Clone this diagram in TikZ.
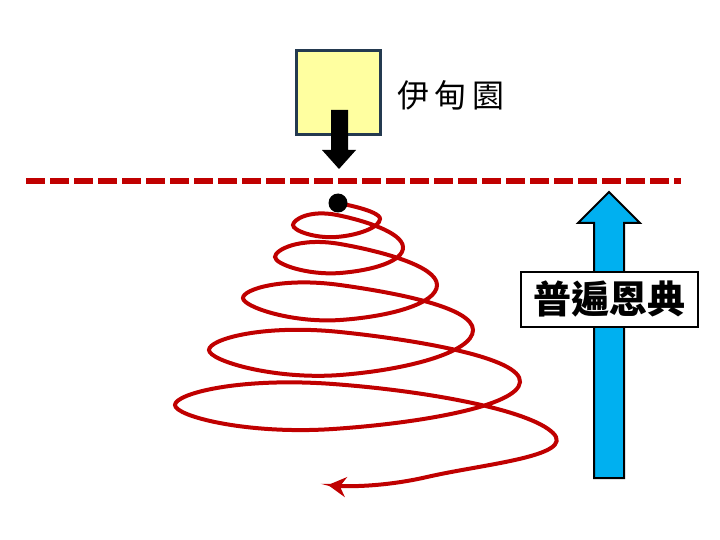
\documentclass[tikz,border=0pt]{standalone}
\usepackage{fontspec}
\usetikzlibrary{arrows.meta}
\newfontfamily\cjk{Noto Sans CJK TC}
\definecolor{edenyellow}{RGB}{255,255,160}
\definecolor{edenframe}{RGB}{36,58,80}
\definecolor{fallred}{RGB}{192,0,0}
\definecolor{gracecyan}{RGB}{0,176,240}
\tikzset{
  edenbox/.style={draw=edenframe,fill=edenyellow,line width=2.5pt,minimum width=84pt,minimum height=84pt,inner sep=0pt},
  gracebox/.style={draw=black,fill=white,line width=2pt,minimum width=177pt,minimum height=55pt,inner sep=0pt},
  blockarrow/.style={draw=black,line width=2pt,line join=miter},
  fallline/.style={draw=fallred,line width=6pt,dash pattern=on 19pt off 5pt}
}
\begin{document}
\begin{tikzpicture}[x=1pt,y=-1pt]
\useasboundingbox (0,0) rectangle (720,540);
% Drawing the garden
\node[edenbox] (eden) at (338.5,92.5) {};
\node[font=\cjk\fontsize{32}{32}\selectfont\addfontfeature{LetterSpace=18}] (edenlabel) at (451,95) {伊甸園};
% Line of the fall
\coordinate (fallstart) at (26,181);
\coordinate (fallend) at (681,181);
\draw[fallline] (fallstart) -- (fallend);
% Falling arrow
\fill[black] (331,110) -- (348,110) -- (348,150) -- (356,150) -- (339,169) -- (322,150) -- (331,150) -- cycle;
% Done with the fall; drawing the spiral
\draw[fallred,line width=4pt,-{Stealth[length=18pt,width=20pt,inset=6pt]}] plot[smooth,tension=0.9] coordinates {
  (338,203) (380,219) (336,237) (293,225) (337,215)
  (403,247) (340,273) (275,257) (340,244)
  (437,285) (340,320) (243,298) (340,285)
  (473,330) (340,375) (209,350) (340,332)
  (520,382) (333,429) (175,405) (333,384)
  (553,433) (427,477) (328,485)};
\fill[black] (338,203) circle (9.5pt);
% Common grace arrow
\draw[blockarrow,fill=gracecyan] (594,478) -- (594,223) -- (578,223) -- (609,192) -- (640,223) -- (624,223) -- (624,478) -- cycle;
\node[gracebox,font=\cjk\bfseries\fontsize{38}{38}\selectfont] (grace) at (609.5,299.5) {普遍恩典};
\end{tikzpicture}
\end{document}
